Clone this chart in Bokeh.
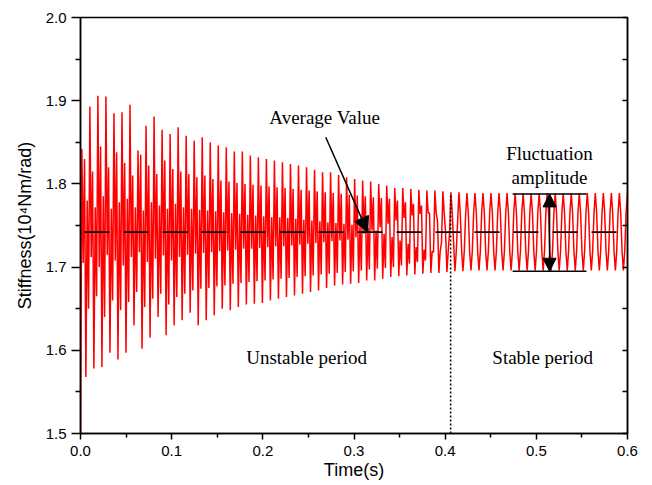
import numpy as np
from bokeh.plotting import figure
from bokeh.models import (Range1d, LinearAxis, FixedTicker, SingleIntervalTicker,
                          PrintfTickFormatter, Arrow, NormalHead, Label)
from bokeh.embed import file_html
from bokeh.resources import INLINE

# ---------------- data ----------------
period = 0.0088          # oscillation period (s)
t_first = 0.0015         # time of first peak (s)
start_time = 0.0
start_value = 1.5
avg_value = 1.742        # average stiffness
amp_hi = 1.788           # fluctuation amplitude upper bound
amp_lo = 1.695           # fluctuation amplitude lower bound
t_stable = 0.406         # boundary unstable / stable period

x_ticks = [0.0, 0.1, 0.2, 0.3, 0.4, 0.5, 0.6]
y_ticks = [1.5, 1.6, 1.7, 1.8, 1.9, 2.0]

# per cycle: main peak, dip, secondary peak, main trough, rise, secondary trough
peaks = [1.842, 1.893, 1.906, 1.905, 1.885, 1.886, 1.895, 1.840, 1.870, 1.881,
         1.865, 1.860, 1.868, 1.858, 1.852, 1.856, 1.850, 1.846, 1.844, 1.839,
         1.839, 1.834, 1.832, 1.830, 1.828, 1.826, 1.824, 1.822, 1.820, 1.817,
         1.814, 1.814, 1.811, 1.808, 1.806, 1.804, 1.803, 1.800, 1.798, 1.795,
         1.795, 1.794, 1.793, 1.792, 1.792, 1.791, 1.790, 1.790, 1.789, 1.789,
         1.789, 1.789, 1.789, 1.789, 1.789, 1.789, 1.789, 1.789, 1.789, 1.789,
         1.789, 1.789, 1.789, 1.789, 1.789, 1.789, 1.789, 1.789]
dips = [1.705, 1.712, 1.700, 1.715, 1.708, 1.702, 1.712, 1.718, 1.706, 1.710,
        1.714, 1.708, 1.712, 1.715, 1.716, 1.717, 1.718, 1.719, 1.720, 1.721,
        1.722, 1.722, 1.723, 1.724, 1.725, 1.725, 1.726, 1.727, 1.728, 1.729,
        1.730, 1.731, 1.732, 1.733, 1.736, 1.740, 1.744, 1.748, 1.752, 1.756,
        1.759, 1.762, 1.764, 1.765, 1.765, 1.765, 1.765, 1.765, 1.765, 1.765,
        1.765, 1.765, 1.765, 1.765, 1.765, 1.765, 1.765, 1.765, 1.765, 1.765,
        1.765, 1.765, 1.765, 1.765, 1.765, 1.765, 1.765, 1.765]
sec_peaks = [1.830, 1.815, 1.845, 1.820, 1.838, 1.825, 1.810, 1.835, 1.822, 1.812,
             1.828, 1.818, 1.815, 1.812, 1.808, 1.810, 1.806, 1.804, 1.803, 1.801,
             1.800, 1.799, 1.798, 1.797, 1.796, 1.795, 1.794, 1.793, 1.792, 1.791,
             1.790, 1.789, 1.788, 1.787, 1.786, 1.785, 1.784, 1.783, 1.782, 1.780,
             1.778, 1.776, 1.774, 1.765, 1.755, 1.742, 1.730, 1.721, 1.719, 1.719,
             1.719, 1.719, 1.719, 1.719, 1.719, 1.719, 1.719, 1.719, 1.719, 1.719,
             1.719, 1.719, 1.719, 1.719, 1.719, 1.719, 1.719, 1.719]
troughs = [1.568, 1.578, 1.580, 1.597, 1.589, 1.597, 1.630, 1.602, 1.615, 1.640,
           1.618, 1.630, 1.636, 1.645, 1.630, 1.636, 1.642, 1.650, 1.648, 1.652,
           1.655, 1.656, 1.657, 1.660, 1.662, 1.664, 1.666, 1.668, 1.670, 1.672,
           1.675, 1.678, 1.679, 1.680, 1.681, 1.684, 1.684, 1.686, 1.688, 1.689,
           1.690, 1.691, 1.692, 1.693, 1.693, 1.694, 1.695, 1.695, 1.696, 1.696,
           1.696, 1.696, 1.696, 1.696, 1.696, 1.696, 1.696, 1.696, 1.696, 1.696,
           1.696, 1.696, 1.696, 1.696, 1.696, 1.696, 1.696, 1.696]
rises = [1.780, 1.772, 1.785, 1.770, 1.778, 1.782, 1.772, 1.768, 1.778, 1.774,
         1.770, 1.776, 1.772, 1.770, 1.769, 1.768, 1.767, 1.766, 1.765, 1.764,
         1.763, 1.762, 1.761, 1.760, 1.760, 1.759, 1.758, 1.757, 1.756, 1.755,
         1.754, 1.753, 1.752, 1.751, 1.750, 1.747, 1.744, 1.740, 1.736, 1.732,
         1.728, 1.724, 1.721, 1.719, 1.719, 1.719, 1.719, 1.719, 1.719, 1.719,
         1.719, 1.719, 1.719, 1.719, 1.719, 1.719, 1.719, 1.719, 1.719, 1.719,
         1.719, 1.719, 1.719, 1.719, 1.719, 1.719, 1.719, 1.719]
sec_troughs = [1.650, 1.665, 1.640, 1.660, 1.648, 1.658, 1.670, 1.652, 1.662, 1.668,
               1.655, 1.664, 1.668, 1.672, 1.674, 1.675, 1.677, 1.678, 1.680, 1.681,
               1.682, 1.683, 1.684, 1.685, 1.686, 1.687, 1.688, 1.689, 1.690, 1.691,
               1.692, 1.693, 1.694, 1.695, 1.696, 1.697, 1.698, 1.699, 1.700, 1.702,
               1.704, 1.706, 1.708, 1.718, 1.730, 1.742, 1.754, 1.763, 1.765, 1.765,
               1.765, 1.765, 1.765, 1.765, 1.765, 1.765, 1.765, 1.765, 1.765, 1.765,
               1.765, 1.765, 1.765, 1.765, 1.765, 1.765, 1.765, 1.765]

# ---------------- build the signal polyline ----------------
ts = [start_time]
vs = [start_value]
n = len(peaks)
for i in range(n):
    t0 = t_first + i * period
    row = [peaks[i], dips[i], sec_peaks[i], troughs[i], rises[i], sec_troughs[i]]
    for k, v in enumerate(row):
        ts.append(t0 + k * period / 6.0)
        vs.append(v)
ts.append(t_first + n * period)
vs.append(peaks[-1])

# ---------------- figure ----------------
p = figure(width=652, height=485, output_backend="svg", toolbar_location=None,
           x_range=Range1d(0, 0.6), y_range=Range1d(1.5, 2.0),
           min_border_left=80, min_border_right=25, min_border_top=17,
           min_border_bottom=52)
p.grid.visible = False
p.outline_line_color = "black"
p.outline_line_width = 1.5
p.background_fill_color = "white"
p.border_fill_color = "white"

p.line(ts, vs, line_color="#FF0000", line_width=1.5)

# average dashed line
p.line([0.0044, 0.6], [avg_value, avg_value], line_color="black", line_width=1.6,
       line_dash="25 14")
# stable boundary dotted line
p.line([t_stable, t_stable], [1.5, amp_hi], line_color="black", line_width=1.5,
       line_dash="2 2")
# fluctuation amplitude bars
p.segment(x0=[0.474, 0.474], y0=[amp_hi, amp_lo], x1=[0.555, 0.555], y1=[amp_hi, amp_lo],
          line_color="black", line_width=1.5)

head = dict(size=13, fill_color="black", line_color="black")
p.add_layout(Arrow(start=NormalHead(**head), end=NormalHead(**head),
                   x_start=0.5145, y_start=amp_lo, x_end=0.5145, y_end=amp_hi,
                   line_color="black", line_width=1.5))
p.add_layout(Arrow(end=NormalHead(size=15, fill_color="black", line_color="black"),
                   x_start=0.269, y_start=1.856,
                   x_end=0.315, y_end=avg_value, line_color="black", line_width=1.5))

serif = "Liberation Serif"
for txt, x, y in [("Average Value", 0.268, 1.880), ("Fluctuation", 0.5145, 1.8365),
                  ("amplitude", 0.5145, 1.8077), ("Unstable period", 0.248, 1.591),
                  ("Stable period", 0.507, 1.591)]:
    p.add_layout(Label(x=x, y=y, text=txt, text_font=serif, text_font_size="19px",
                       text_align="center", text_baseline="middle", text_color="black"))

# axes
sans = "Liberation Sans"
p.xaxis.ticker = FixedTicker(ticks=x_ticks,
                             minor_ticks=[0.05, 0.15, 0.25, 0.35, 0.45, 0.55])
p.yaxis.ticker = FixedTicker(ticks=y_ticks,
                             minor_ticks=[1.55, 1.65, 1.75, 1.85, 1.95])
p.xaxis.formatter = PrintfTickFormatter(format="%.1f")
p.yaxis.formatter = PrintfTickFormatter(format="%.1f")
p.xaxis.axis_label = "Time(s)"
p.yaxis.axis_label = "Stiffness(10\u2074Nm/rad)"
for ax in (p.xaxis[0], p.yaxis[0]):
    ax.axis_line_width = 1.5
    ax.major_tick_line_width = 1.5
    ax.minor_tick_line_width = 1.5
    ax.major_tick_in = 0
    ax.minor_tick_in = 0
    ax.major_label_text_font = sans
    ax.major_label_text_font_size = "15px"
    ax.major_label_text_color = "black"
    ax.axis_label_text_font = sans
    ax.axis_label_text_font_size = "18px"
    ax.axis_label_text_font_style = "normal"
    ax.axis_label_text_color = "black"
p.yaxis.major_tick_out = 9
p.yaxis.minor_tick_out = 5
p.xaxis.major_tick_out = 6
p.xaxis.minor_tick_out = 4
p.xaxis.major_label_standoff = 6
p.yaxis.axis_label_standoff = 8
p.xaxis.axis_label_standoff = 1

right = LinearAxis(ticker=SingleIntervalTicker(interval=0.05, num_minor_ticks=0),
                   major_label_text_font_size="0px", major_tick_in=5, major_tick_out=0,
                   minor_tick_in=0, minor_tick_out=0, axis_line_width=1.5,
                   major_tick_line_width=1.5)
p.add_layout(right, "right")

open("out.html", "w").write(file_html(p, INLINE))
